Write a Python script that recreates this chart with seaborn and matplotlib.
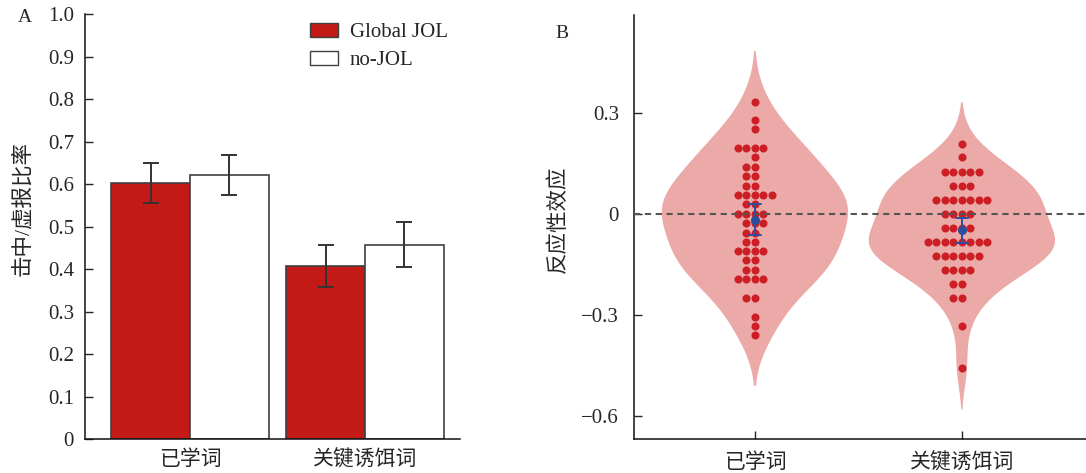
import numpy as np
import pandas as pd
import matplotlib
matplotlib.use('Agg')
import matplotlib.pyplot as plt
import seaborn as sns

# ---- 数据 ----
categories = ['已学词', '关键诱饵词']
conditions = ['Global JOL', 'no-JOL']

# A: 击中/虚报比率 (均值, 误差)
ratio_global = [0.603, 0.407]
ratio_nojol = [0.622, 0.457]
err_global = [0.047, 0.050]
err_nojol = [0.047, 0.053]

# B: 反应性效应 (每个数值及其出现次数)
studied_values = [0.333, 0.278, 0.250, 0.194, 0.167, 0.139, 0.111, 0.083, 0.056, 0.028, 0.0,
                  -0.028, -0.056, -0.083, -0.111, -0.139, -0.167, -0.194, -0.250, -0.306, -0.333, -0.361]
studied_counts = [1, 1, 1, 4, 1, 2, 2, 2, 5, 2, 4,
                  3, 2, 2, 4, 2, 2, 4, 2, 1, 1, 1]
lure_values = [0.208, 0.167, 0.125, 0.083, 0.042, 0.0,
               -0.042, -0.083, -0.125, -0.167, -0.208, -0.250, -0.333, -0.458]
lure_counts = [1, 1, 5, 3, 7, 4,
               4, 8, 6, 4, 2, 2, 1, 1]

bar_red = '#C31A18'
edge_gray = '#404040'
violin_col = '#EBA9A7'
dot_red = '#CC1E24'
mean_blue = '#2B4FA0'

sns.set_style('ticks')
plt.rcParams['font.family'] = ['Liberation Serif', 'Noto Sans CJK SC']
plt.rcParams['axes.unicode_minus'] = True
plt.rcParams['axes.linewidth'] = 1.1
plt.rcParams['axes.edgecolor'] = '#111111'

W, H = 1086, 473
fig = plt.figure(figsize=(W / 100, H / 100), dpi=100)

# ---------------- A ----------------
df_a = pd.DataFrame({
    'word': categories * 2,
    'cond': [conditions[0]] * 2 + [conditions[1]] * 2,
    'ratio': ratio_global + ratio_nojol,
})
errs = {conditions[0]: err_global, conditions[1]: err_nojol}

ax1 = fig.add_axes([85 / W, (H - 439.3) / H, (460 - 85) / W, (439.3 - 14) / H])
sns.barplot(data=df_a, x='word', y='ratio', hue='cond', order=categories, hue_order=conditions,
            palette={conditions[0]: bar_red, conditions[1]: 'white'}, saturation=1,
            width=0.9, edgecolor=edge_gray, linewidth=1.2, errorbar=None, ax=ax1)

for cont, cond in zip(ax1.containers, conditions):
    xs = [p.get_x() + p.get_width() / 2 for p in cont.patches]
    hs = [p.get_height() for p in cont.patches]
    ax1.errorbar(xs, hs, yerr=errs[cond], fmt='none', ecolor='#333333',
                 elinewidth=1.4, capsize=6, capthick=1.4, zorder=5)

ax1.set_ylim(0, 1.0)
ax1.set_xlim(-0.6, 1.543)
ax1.set_yticks(np.arange(0, 1.01, 0.1))
ax1.set_yticklabels(['0'] + [f'{v:.1f}' for v in np.arange(0.1, 1.01, 0.1)])
ax1.tick_params(axis='y', direction='in', length=6, width=1.0, labelsize=15, pad=8)
ax1.tick_params(axis='x', length=0, labelsize=15, pad=8)
ax1.set_xlabel('')
ax1.set_ylabel('击中/虚报比率', fontsize=15.5)
ax1.yaxis.set_label_coords(-0.137, 0.543)
sns.despine(ax=ax1)

leg = ax1.legend(loc='upper left', bbox_to_anchor=(310 / W, 1 - 23 / H),
                 bbox_transform=fig.transFigure, frameon=False, fontsize=15,
                 handlelength=1.35, handleheight=0.65, handletextpad=0.55,
                 labelspacing=0.4, borderpad=0, borderaxespad=0)
for h in leg.legend_handles:
    h.set_edgecolor(edge_gray)
    h.set_linewidth(1.0)

# ---------------- B ----------------
df_b = pd.DataFrame({
    'word': [categories[0]] * sum(studied_counts) + [categories[1]] * sum(lure_counts),
    'effect': np.concatenate([np.repeat(studied_values, studied_counts),
                              np.repeat(lure_values, lure_counts)]),
})

ax2 = fig.add_axes([634.3 / W, (H - 439.3) / H, (W - 634.3) / W, (439.3 - 15) / H])
sns.violinplot(data=df_b, x='word', y='effect', order=categories, color=violin_col,
               saturation=1, inner=None, linewidth=0, density_norm='width', width=0.9,
               cut=2, ax=ax2)
for c in ax2.collections:
    c.set_edgecolor('none')
sns.swarmplot(data=df_b, x='word', y='effect', order=categories, color=dot_red,
              size=5.8, linewidth=0, ax=ax2, zorder=3)
ax2.axhline(0, color='#555555', linestyle=(0, (3, 2.2)), linewidth=1.5, zorder=4)
sns.pointplot(data=df_b, x='word', y='effect', order=categories, errorbar=('se', 1.96),
              color=mean_blue, linestyle='none', markers='o', markersize=4.5,
              capsize=0.06, err_kws={'linewidth': 1.4}, ax=ax2, zorder=6)

ax2.set_xlim(-0.583, 1.6)
ax2.set_ylim(-0.67, 0.59)
ax2.set_yticks([0.3, 0, -0.3, -0.6])
ax2.set_yticklabels(['0.3', '0', '\u22120.3', '\u22120.6'])
ax2.tick_params(axis='both', direction='in', length=6, width=1.0, labelsize=15)
ax2.tick_params(axis='y', pad=11)
ax2.tick_params(axis='x', pad=10)
ax2.set_xlabel('')
ax2.set_ylabel('反应性效应', fontsize=15.5)
ax2.yaxis.set_label_coords(-0.145, 0.518)
sns.despine(ax=ax2)

fig.text(25 / W, 1 - 18 / H, 'A', fontsize=14, ha='center', va='center')
fig.text(562 / W, 1 - 33 / H, 'B', fontsize=14, ha='center', va='center')

fig.savefig('out.png', dpi=100)
